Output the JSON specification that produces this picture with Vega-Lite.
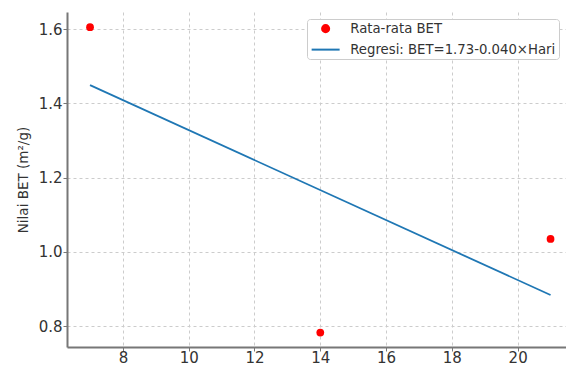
{
  "$schema": "https://vega.github.io/schema/vega-lite/v6.json",
  "autosize": {"type": "none"},
  "padding": {"left": 67, "top": 12, "right": 0, "bottom": 19},
  "width": 499,
  "height": 335,
  "background": "white",
  "config": {
    "font": "DejaVu Sans",
    "view": {"stroke": null},
    "axis": {
      "labelFont": "DejaVu Sans",
      "labelFontSize": 15,
      "labelColor": "#333333",
      "titleFont": "DejaVu Sans",
      "titleFontSize": 13.5,
      "titleFontWeight": "normal",
      "titleColor": "#333333",
      "domainColor": "#777777",
      "domainWidth": 2,
      "tickColor": "#777777",
      "tickSize": 4,
      "tickWidth": 1,
      "gridColor": "#cccccc",
      "gridDash": [3, 3],
      "gridWidth": 1
    }
  },
  "data": {
    "values": [
      {"hari": 7, "bet": 1.605, "series": "Rata-rata BET", "kind": "point"},
      {"hari": 14, "bet": 0.783, "series": "Rata-rata BET", "kind": "point"},
      {"hari": 21, "bet": 1.035, "series": "Rata-rata BET", "kind": "point"},
      {"hari": 7, "bet": 1.449, "series": "Regresi: BET=1.73-0.040×Hari", "kind": "fit"},
      {"hari": 21, "bet": 0.884, "series": "Regresi: BET=1.73-0.040×Hari", "kind": "fit"}
    ]
  },
  "encoding": {
    "x": {
      "field": "hari",
      "type": "quantitative",
      "scale": {"domain": [6.3, 21.47], "nice": false, "zero": false},
      "axis": {"values": [8, 10, 12, 14, 16, 18, 20], "title": null, "labelPadding": -1}
    },
    "y": {
      "field": "bet",
      "type": "quantitative",
      "scale": {"domain": [0.744, 1.646], "nice": false, "zero": false},
      "axis": {"values": [0.8, 1.0, 1.2, 1.4, 1.6], "format": ".1f", "title": "Nilai BET (m²/g)", "titlePadding": 8, "labelPadding": 1}
    },
    "color": {
      "field": "series",
      "type": "nominal",
      "scale": {
        "domain": ["Rata-rata BET", "Regresi: BET=1.73-0.040×Hari"],
        "range": ["#ff0000", "#1f77b4"]
      },
      "legend": {
        "title": null,
        "orient": "none",
        "legendX": 240,
        "legendY": 7,
        "labelFont": "DejaVu Sans",
        "labelFontSize": 13.25,
        "labelColor": "#333333",
        "labelLimit": 400,
        "labelOffset": 18,
        "symbolOffset": 9,
        "rowPadding": 5,
        "padding": 3,
        "strokeColor": "#cccccc",
        "fillColor": "white",
        "cornerRadius": 3,
        "encode": {
          "symbols": {
            "update": {
              "shape": {"signal": "datum.value === 'Rata-rata BET' ? 'circle' : 'M-2.8,0H2.8'"},
              "size": {"signal": "datum.value === 'Rata-rata BET' ? 50 : 100"},
              "fill": {"signal": "datum.value === 'Rata-rata BET' ? '#ff0000' : 'transparent'"},
              "stroke": {"signal": "datum.value === 'Rata-rata BET' ? 'transparent' : '#1f77b4'"},
              "strokeWidth": {"value": 2},
              "opacity": {"value": 1}
            }
          }
        }
      }
    }
  },
  "layer": [
    {
      "transform": [{"filter": "datum.kind === 'fit'"}],
      "mark": {"type": "line", "strokeWidth": 1.8}
    },
    {
      "transform": [{"filter": "datum.kind === 'point'"}],
      "mark": {"type": "point", "filled": true, "size": 60, "opacity": 1}
    }
  ]
}
